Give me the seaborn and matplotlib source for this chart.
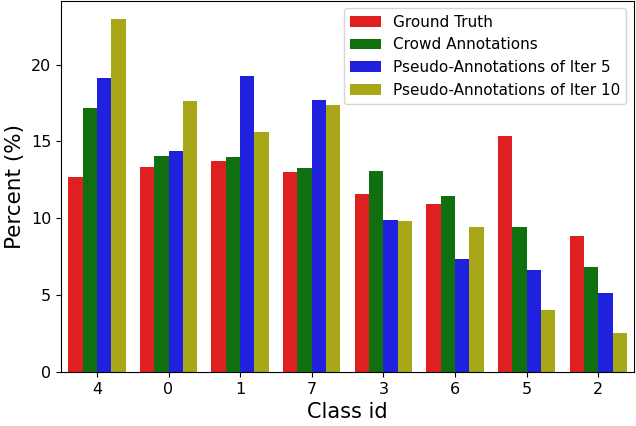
import matplotlib
matplotlib.use('Agg')
import matplotlib.pyplot as plt
import pandas as pd
import seaborn as sns

# class ids in the order shown on the x axis
class_ids = ['4', '0', '1', '7', '3', '6', '5', '2']
series_names = [
    'Ground Truth',
    'Crowd Annotations',
    'Pseudo-Annotations of Iter 5',
    'Pseudo-Annotations of Iter 10',
]
ground_truth = [12.7, 13.35, 13.75, 13.0, 11.55, 10.95, 15.35, 8.85]
crowd = [17.2, 14.05, 14.0, 13.3, 13.1, 11.45, 9.45, 6.85]
pseudo_iter5 = [19.1, 14.4, 19.25, 17.7, 9.9, 7.35, 6.6, 5.15]
pseudo_iter10 = [23.0, 17.65, 15.6, 17.4, 9.8, 9.45, 4.05, 2.55]
palette = ['r', 'g', 'b', 'y']

rows = []
for name, values in zip(series_names,
                        [ground_truth, crowd, pseudo_iter5, pseudo_iter10]):
    for cid, v in zip(class_ids, values):
        rows.append({'Class id': cid, 'Percent': v, 'Series': name})
df = pd.DataFrame(rows)

fig = plt.figure(figsize=(6.36, 4.26), dpi=100)
ax = fig.add_axes([0.096, 0.127, 0.901, 0.871])
sns.barplot(
    data=df,
    x='Class id',
    y='Percent',
    hue='Series',
    order=class_ids,
    hue_order=series_names,
    palette=palette,
    ax=ax,
)
ax.set_xlabel('Class id', fontsize=15)
ax.set_ylabel('Percent (%)', fontsize=15.5)
ax.tick_params(labelsize=11.5)
ax.legend(loc='upper right', fontsize=11, title=None)
fig.savefig('out.png', dpi=100)
